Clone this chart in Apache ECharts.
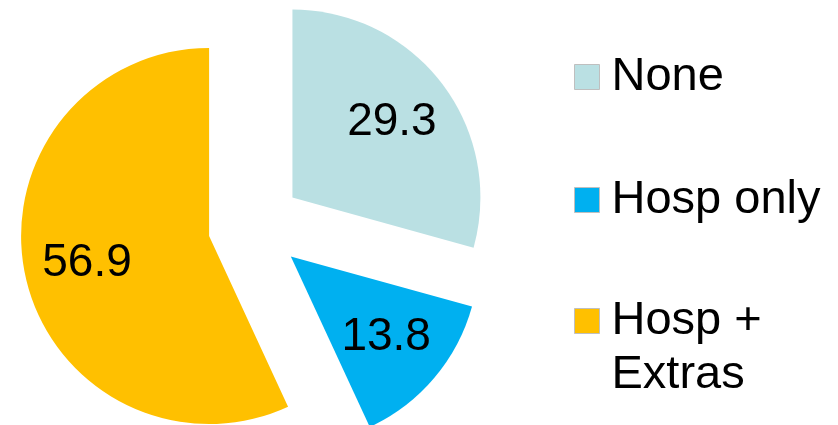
<!DOCTYPE html>
<html>
<head>
<meta charset="utf-8">
<script src="https://cdn.jsdelivr.net/npm/echarts@6/dist/echarts.min.js"></script>
<style>
  html, body { margin: 0; padding: 0; background: #ffffff; }
  #chart { width: 838px; height: 425px; }
</style>
</head>
<body>
<div id="chart"></div>
<script>
// ---- data ----
const categories = ['None', 'Hosp only', 'Hosp + Extras'];
const values = [29.3, 13.8, 56.9];
const colors = ['#BAE0E3', '#00B0F0', '#FFC000'];

// ---- layout / style ----
const FONT = 'Liberation Sans, Arial, sans-serif';
const R = 188;
const CENTER = [255, 226];
const OFFSET = 47;
const legendCenters = [77, 200, 321];
const LINE_H = 54;

const sliceData = categories.map((name, i) => ({
  name: name,
  value: values[i],
  selected: true,
  itemStyle: { color: colors[i] }
}));
const labelData = categories.map((name, i) => ({
  name: name,
  value: values[i],
  selected: true
}));

function legendFor(i) {
  const multi = categories[i].indexOf(' + ') >= 0;
  // wrapped names get an empty leading line so the first text line sits level with the icon
  const lines = multi ? 3 : 1;
  const boxH = lines * LINE_H;
  return {
    show: true,
    orient: 'vertical',
    left: 574,
    top: legendCenters[i] - boxH / 2,
    padding: 0,
    itemWidth: 25,
    itemHeight: 25,
    icon: 'rect',
    itemStyle: { borderColor: '#BFBFBF', borderWidth: 1 },
    selectedMode: false,
    data: [categories[i]],
    formatter: function (n) {
      return multi ? '\n' + n.replace(' + ', ' +\n') : n;
    },
    textStyle: {
      fontFamily: FONT,
      fontSize: 47,
      color: '#000000',
      lineHeight: LINE_H,
      padding: [0, 0, 0, 7]
    }
  };
}

const chart = echarts.init(document.getElementById('chart'), null, { renderer: 'canvas' });
chart.setOption({
  animation: false,
  backgroundColor: '#ffffff',
  color: colors,
  legend: [legendFor(0), legendFor(1), legendFor(2)],
  series: [
    {
      type: 'pie',
      center: CENTER,
      radius: [0, R],
      startAngle: 90,
      clockwise: true,
      selectedMode: 'multiple',
      selectedOffset: OFFSET,
      silent: true,
      label: { show: false },
      labelLine: { show: false },
      emphasis: { disabled: true },
      data: sliceData
    },
    {
      type: 'pie',
      center: CENTER,
      radius: [Math.round(R * 0.3), R],
      startAngle: 90,
      clockwise: true,
      selectedMode: 'multiple',
      selectedOffset: OFFSET,
      silent: true,
      itemStyle: { color: 'rgba(0,0,0,0)' },
      select: { itemStyle: { color: 'rgba(0,0,0,0)', borderWidth: 0 } },
      emphasis: { disabled: true },
      label: {
        show: true,
        position: 'inner',
        formatter: '{c}',
        fontFamily: FONT,
        fontSize: 46,
        color: '#000000'
      },
      labelLine: { show: false },
      data: labelData
    }
  ]
});
</script>
</body>
</html>
